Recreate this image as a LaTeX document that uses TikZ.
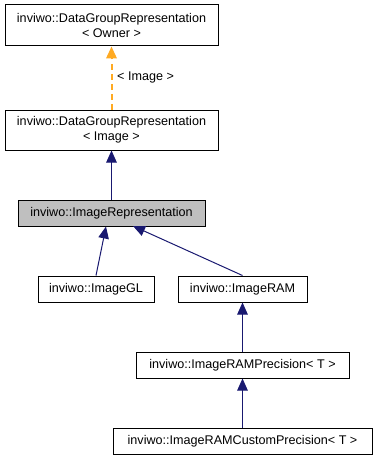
\documentclass[tikz,border=0pt]{standalone}
\usepackage{fontspec}
\setmainfont{Liberation Sans}
\usetikzlibrary{arrows.meta}
\definecolor{edgeblue}{HTML}{191970}
\definecolor{tmplorange}{HTML}{FFAA22}
\definecolor{curgray}{HTML}{BFBFBF}
\begin{document}
\begin{tikzpicture}[x=1pt,y=-1pt,
  cls/.style={draw=black, line width=1pt, fill=white, inner sep=0pt,
    font=\fontsize{12.6}{15}\selectfont, align=center},
  inherit/.style={draw=edgeblue, line width=1pt,
    -{Triangle[length=12pt,width=10.5pt,fill=edgeblue]}},
  tmpl/.style={draw=tmplorange, line width=2pt, dash pattern=on 6pt off 4pt,
    -{Triangle[length=12pt,width=10.5pt,fill=tmplorange]}},
  lbl/.style={font=\fontsize{12.6}{15}\selectfont, inner sep=0pt}]
\useasboundingbox (0,0) rectangle (377,460);

\node[cls, minimum width=213pt, minimum height=41pt] (owner) at (111.5,25.5)
  {inviwo::DataGroupRepresentation\\{<} Owner {>}};
\node[cls, minimum width=213pt, minimum height=40pt] (dgimg) at (111.5,130)
  {inviwo::DataGroupRepresentation\\{<} Image {>}};
\node[cls, fill=curgray, minimum width=187pt, minimum height=26pt] (imgrep) at (111.5,213)
  {inviwo::ImageRepresentation};
\node[cls, minimum width=116pt, minimum height=26pt] (imggl) at (96,289)
  {inviwo::ImageGL};
\node[cls, minimum width=129pt, minimum height=26pt] (imgram) at (242.5,289)
  {inviwo::ImageRAM};
\node[cls, minimum width=213pt, minimum height=26pt] (ramprec) at (242.5,365)
  {inviwo::ImageRAMPrecision{<} T {>}};
\node[cls, minimum width=259pt, minimum height=26pt] (ramcust) at (242.5,441)
  {inviwo::ImageRAMCustomPrecision{<} T {>}};

% template instantiation edge and its argument label
\draw[tmpl] (dgimg.north) -- (owner.south);
\node[lbl, anchor=west] (tlabel) at (117,77) {{<} Image {>}};

% inheritance edges
\draw[inherit] (imgrep.north) -- (dgimg.south);
\draw[inherit] (imggl.north) -- (imgrep.south -| 106,0);
\draw[inherit] (imgram.north) -- (133,226);
\draw[inherit] (ramprec.north) -- (imgram.south);
\draw[inherit] (ramcust.north) -- (ramprec.south);
\end{tikzpicture}
\end{document}
